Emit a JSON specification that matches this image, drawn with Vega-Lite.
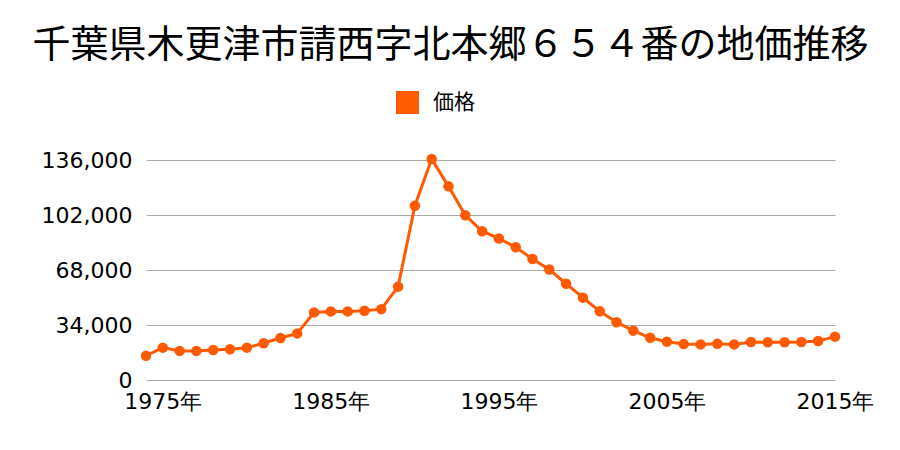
{
  "$schema": "https://vega.github.io/schema/vega-lite/v6.json",
  "autosize": "none",
  "width": 689,
  "height": 220,
  "padding": {"left": 146, "top": 160, "right": 65, "bottom": 70},
  "background": "white",
  "title": {
    "text": "千葉県木更津市請西字北本郷６５４番の地価推移",
    "font": "Noto Sans CJK JP",
    "fontSize": 38,
    "fontWeight": "normal",
    "color": "#000000",
    "anchor": "middle",
    "frame": "group",
    "dx": -40,
    "offset": 26
  },
  "config": {
    "view": {"stroke": null},
    "font": "Noto Sans CJK JP"
  },
  "data": {
    "values": [
      {"year": 1974, "price": 15000, "series": "価格"},
      {"year": 1975, "price": 20000, "series": "価格"},
      {"year": 1976, "price": 18000, "series": "価格"},
      {"year": 1977, "price": 18000, "series": "価格"},
      {"year": 1978, "price": 18500, "series": "価格"},
      {"year": 1979, "price": 19000, "series": "価格"},
      {"year": 1980, "price": 20000, "series": "価格"},
      {"year": 1981, "price": 22700, "series": "価格"},
      {"year": 1982, "price": 26000, "series": "価格"},
      {"year": 1983, "price": 28800, "series": "価格"},
      {"year": 1984, "price": 41800, "series": "価格"},
      {"year": 1985, "price": 42400, "series": "価格"},
      {"year": 1986, "price": 42400, "series": "価格"},
      {"year": 1987, "price": 42800, "series": "価格"},
      {"year": 1988, "price": 43800, "series": "価格"},
      {"year": 1989, "price": 57700, "series": "価格"},
      {"year": 1990, "price": 107700, "series": "価格"},
      {"year": 1991, "price": 136600, "series": "価格"},
      {"year": 1992, "price": 119700, "series": "価格"},
      {"year": 1993, "price": 101800, "series": "価格"},
      {"year": 1994, "price": 92000, "series": "価格"},
      {"year": 1995, "price": 87500, "series": "価格"},
      {"year": 1996, "price": 82100, "series": "価格"},
      {"year": 1997, "price": 74800, "series": "価格"},
      {"year": 1998, "price": 68300, "series": "価格"},
      {"year": 1999, "price": 59500, "series": "価格"},
      {"year": 2000, "price": 50900, "series": "価格"},
      {"year": 2001, "price": 42500, "series": "価格"},
      {"year": 2002, "price": 35700, "series": "価格"},
      {"year": 2003, "price": 30500, "series": "価格"},
      {"year": 2004, "price": 26100, "series": "価格"},
      {"year": 2005, "price": 23700, "series": "価格"},
      {"year": 2006, "price": 22200, "series": "価格"},
      {"year": 2007, "price": 22000, "series": "価格"},
      {"year": 2008, "price": 22400, "series": "価格"},
      {"year": 2009, "price": 22000, "series": "価格"},
      {"year": 2010, "price": 23500, "series": "価格"},
      {"year": 2011, "price": 23300, "series": "価格"},
      {"year": 2012, "price": 23300, "series": "価格"},
      {"year": 2013, "price": 23500, "series": "価格"},
      {"year": 2014, "price": 24100, "series": "価格"},
      {"year": 2015, "price": 26800, "series": "価格"}
    ]
  },
  "encoding": {
    "x": {
      "field": "year",
      "type": "quantitative",
      "scale": {"domain": [1974, 2015], "nice": false, "zero": false},
      "axis": {
        "title": null,
        "values": [1975, 1985, 1995, 2005, 2015],
        "labelExpr": "format(datum.value, 'd') + '年'",
        "labelFont": "DejaVu Sans",
        "labelFontSize": 22,
        "labelColor": "#000000",
        "labelPadding": 11,
        "labelFlush": false,
        "labelOverlap": false,
        "grid": false,
        "domain": false,
        "ticks": false
      }
    },
    "y": {
      "field": "price",
      "type": "quantitative",
      "scale": {"domain": [0, 136000], "nice": false},
      "axis": {
        "title": null,
        "values": [0, 34000, 68000, 102000, 136000],
        "format": ",d",
        "labelFont": "DejaVu Sans",
        "labelFontSize": 22,
        "labelColor": "#000000",
        "labelPadding": 14,
        "grid": true,
        "gridColor": "#aaaaaa",
        "gridWidth": 1,
        "domain": false,
        "ticks": false
      }
    },
    "color": {
      "field": "series",
      "type": "nominal",
      "scale": {"range": ["#ff5a00"]},
      "legend": {
        "title": null,
        "orient": "none",
        "legendX": 250,
        "legendY": -69,
        "direction": "horizontal",
        "symbolType": "square",
        "symbolSize": 529,
        "symbolOpacity": 1,
        "symbolStrokeWidth": 0,
        "labelFont": "Noto Sans CJK JP",
        "labelFontSize": 21,
        "labelColor": "#000000",
        "labelOffset": 14,
        "padding": 0
      }
    }
  },
  "layer": [
    {"mark": {"type": "line", "strokeWidth": 3, "clip": false}},
    {"mark": {"type": "point", "filled": true, "size": 110, "opacity": 1, "clip": false}}
  ]
}
